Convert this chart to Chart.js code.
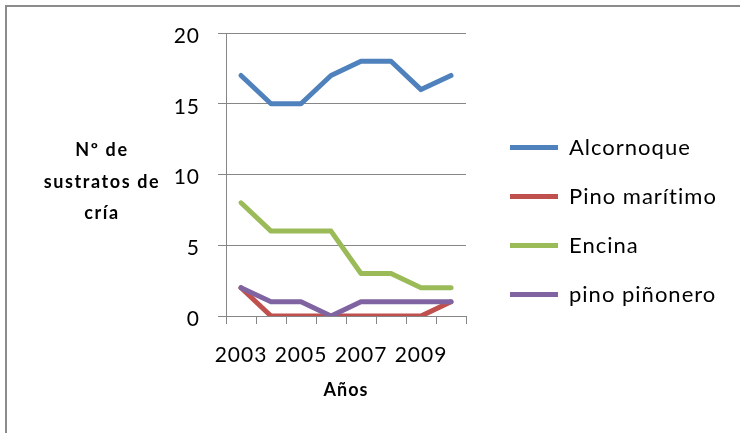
<!DOCTYPE html>
<html><head><meta charset="utf-8">
<script src="https://cdn.jsdelivr.net/npm/chart.js@4"></script>
<style>html,body{margin:0;background:#fff}canvas{display:block}</style>
</head><body>
<canvas id="chart" width="740" height="433"></canvas>
<script>
// Years on the horizontal axis
const years = ['2003', '2004', '2005', '2006', '2007', '2008', '2009', '2010'];

// Breeding substrates counted per year, one list per tree species
const alcornoque   = [17, 15, 15, 17, 18, 18, 16, 17];
const pinoMaritimo = [2, 0, 0, 0, 0, 0, 0, 1];
const encina       = [8, 6, 6, 6, 3, 3, 2, 2];
const pinoPinonero = [2, 1, 1, 0, 1, 1, 1, 1];

const seriesNames  = ['Alcornoque', 'Pino marítimo', 'Encina', 'pino piñonero'];
const seriesValues = [alcornoque, pinoMaritimo, encina, pinoPinonero];
const seriesColors = ['#4f81bd', '#c0504d', '#9bbb59', '#8064a2'];

// Value axis range and axis titles
const yMin = 0, yMax = 20, yStep = 5;
const yTitleLines = ['Nº de', 'sustratos de', 'cría'];
const xTitle = 'Años';

const FONT = 'Lato';
const GRID = '#868686';
const LETTER_SPACING = '1px';

// Layout constants (pixels)
const PLOT_LEFT = 226, PLOT_TOP = 33, PLOT_RIGHT = 466, PLOT_BOTTOM = 316;
const LEGEND_X = 510, LEGEND_PAD = 27;

// Applies a little tracking to all canvas text, set again after any canvas reset
const trackingPlugin = {
  id: 'tracking',
  beforeUpdate(chart) { chart.ctx.letterSpacing = LETTER_SPACING; },
  beforeDraw(chart) { chart.ctx.letterSpacing = LETTER_SPACING; }
};

// White background and the outer frame of the chart object
const framePlugin = {
  id: 'frame',
  beforeDraw(chart) {
    const ctx = chart.ctx;
    ctx.save();
    ctx.fillStyle = '#ffffff';
    ctx.fillRect(0, 0, chart.width, chart.height);
    ctx.strokeStyle = '#8c8c8c';
    ctx.lineWidth = 2;
    ctx.strokeRect(6, 6, chart.width + 20, chart.height + 20);
    ctx.restore();
  }
};

// Horizontal, multi-line value-axis title to the left of the tick labels
const yTitlePlugin = {
  id: 'yTitle',
  afterDraw(chart) {
    const {ctx, chartArea} = chart;
    ctx.save();
    ctx.font = 'bold 18px ' + FONT;
    ctx.letterSpacing = '1.6px';
    ctx.fillStyle = '#000';
    ctx.textAlign = 'center';
    ctx.textBaseline = 'alphabetic';
    const cx = chartArea.left - 124;
    const base = chartArea.top + 123;
    yTitleLines.forEach((t, i) => ctx.fillText(t, cx, base + i * 31.5));
    ctx.restore();
  }
};

const datasets = seriesNames.map((name, i) => ({
  label: name,
  data: seriesValues[i],
  borderColor: seriesColors[i],
  backgroundColor: seriesColors[i],
  borderWidth: 5,
  borderJoinStyle: 'round',
  borderCapStyle: 'round',
  pointRadius: 0,
  pointHoverRadius: 0,
  tension: 0,
  fill: false,
  yAxisID: 'y',
  order: seriesNames.length - i   // later series drawn on top
}));

new Chart(document.getElementById('chart'), {
  type: 'line',
  data: { labels: years, datasets },
  plugins: [trackingPlugin, framePlugin, yTitlePlugin],
  options: {
    responsive: false,
    animation: false,
    events: [],
    layout: { padding: { top: 9, left: 0, right: 0, bottom: 0 } },
    plugins: {
      tooltip: { enabled: false },
      legend: {
        position: 'right',
        maxWidth: 300,
        labels: {
          font: { family: FONT, size: 22 },
          color: '#000',
          usePointStyle: true,
          pointStyle: 'line',
          pointStyleWidth: 48,
          padding: LEGEND_PAD,
          sort: (a, b) => a.datasetIndex - b.datasetIndex
        }
      }
    },
    scales: {
      x: {
        type: 'category',
        offset: true,
        grid: { offset: true, drawOnChartArea: false, drawTicks: true, tickLength: 8, color: GRID, lineWidth: 1 },
        border: { display: true, color: GRID, width: 1 },
        ticks: {
          autoSkip: false,
          maxRotation: 0,
          minRotation: 0,
          padding: 19,
          color: '#000',
          font: { family: FONT, size: 21 },
          callback: (v, i) => (i % 2 === 0 ? years[i] : '')
        },
        title: {
          display: true,
          text: xTitle,
          color: '#000',
          font: { family: FONT, size: 18, weight: 'bold' },
          padding: { top: 0, bottom: 32 }
        },
        afterFit(s) {
          s.height = s.chart.height - PLOT_BOTTOM;
          s.paddingLeft = 0;
          s.paddingRight = s.chart.width - PLOT_RIGHT;
        }
      },
      y: {
        type: 'linear',
        position: 'left',
        min: yMin,
        max: yMax,
        grid: { color: GRID, lineWidth: 1, drawTicks: true, tickLength: 8 },
        border: { display: true, color: GRID, width: 1 },
        ticks: {
          stepSize: yStep,
          padding: 18,
          labelOffset: 3,
          color: '#000',
          font: { family: FONT, size: 21 }
        },
        afterFit(s) {
          s.width = PLOT_LEFT;
          s.paddingTop = PLOT_TOP;
        }
      },
      // empty gap between the plot and the legend
      gap: {
        axis: 'y',
        position: 'right',
        display: true,
        grid: { display: false },
        border: { display: false },
        ticks: { display: false },
        afterFit(s) { s.width = LEGEND_X - LEGEND_PAD - PLOT_RIGHT; }
      }
    }
  }
});
</script>
</body></html>
